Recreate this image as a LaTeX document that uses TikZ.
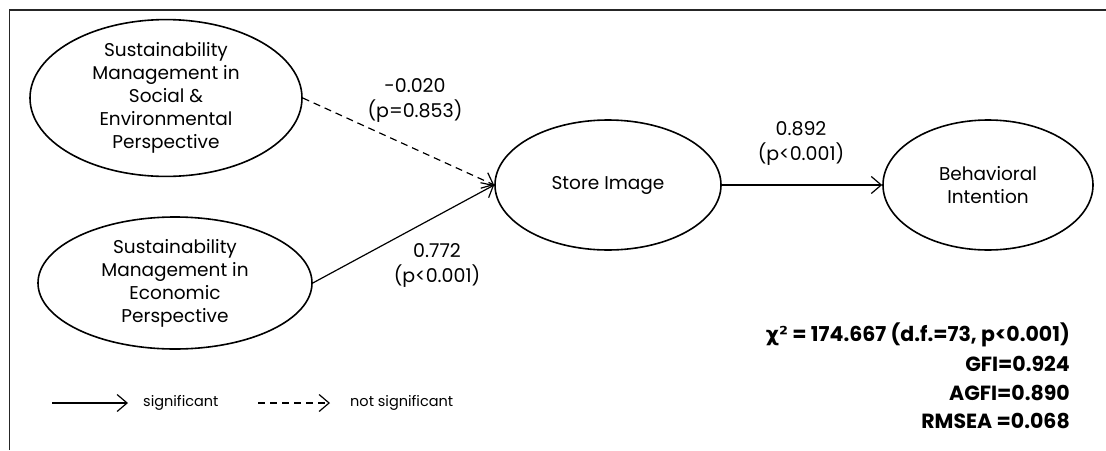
\documentclass[tikz,border=0pt]{standalone}
\usepackage{fontspec}
\setmainfont{Poppins}
\newfontfamily\symfont{DejaVu Sans}
\usetikzlibrary{shapes.geometric,arrows.meta}
\tikzset{
  latent/.style={draw, ellipse, line width=1.6pt, inner sep=0pt, align=center,
    font=\fontsize{18.5}{23}\selectfont},
  sigpath/.style={line width=1.2pt, -{Straight Barb[length=10pt,width=17pt,line width=1.2pt]}},
  nspath/.style={sigpath, dash pattern=on 7pt off 5pt},
  coef/.style={align=center, font=\fontsize{19}{25}\selectfont},
  fitstat/.style={anchor=east, inner sep=0pt, font=\bfseries\fontsize{20.5}{20.5}\selectfont},
  legendtext/.style={anchor=west, inner sep=0pt, font=\fontsize{14.5}{14.5}\selectfont},
  frameline/.style={line width=1.5pt, draw=black!85}
}
\begin{document}
\begin{tikzpicture}[x=1pt, y=-1pt]
\useasboundingbox (0,0) rectangle (1106,450);
% frame
\coordinate (fl) at (9.5,450);
\coordinate (ftl) at (9.5,10);
\coordinate (ftr) at (1106,10);
\draw[frameline] (fl) -- (ftl) -- (ftr);
% latent variables
\node[latent, minimum width=272pt, minimum height=130pt] (soc) at (166,98)
  {Sustainability\\Management in\\Social \&\\Environmental\\Perspective};
\node[latent, minimum width=274pt, minimum height=132pt] (eco) at (175,283)
  {Sustainability\\Management in\\Economic\\Perspective};
\node[latent, minimum width=226pt, minimum height=130pt] (si) at (608,185)
  {Store Image};
\node[latent, minimum width=210pt, minimum height=130pt] (bi) at (988,185)
  {Behavioral\\Intention};
% paths
\draw[nspath] (soc.east) -- (si.west);
\draw[sigpath] (eco.east) -- (si.west);
\draw[sigpath] (si.east) -- (bi.west);
% coefficients
\node[coef] (c1) at (415,100) {-0.020\\(p=0.853)};
\node[coef] (c2) at (437,265) {0.772\\(p<0.001)};
\node[coef] (c3) at (801,143) {0.892\\(p<0.001)};
% fit statistics
\node[fitstat] (f1) at (1070,335) {{\symfont\bfseries χ²} = 174.667 (d.f.=73, p<0.001)};
\node[fitstat] (f2) at (1070,364) {GFI=0.924};
\node[fitstat] (f3) at (1070,393) {AGFI=0.890};
\node[fitstat] (f4) at (1070,421) {RMSEA =0.068};
% legend
\coordinate (l1s) at (52,403);
\coordinate (l1e) at (128,403);
\coordinate (l2s) at (258,403);
\coordinate (l2e) at (330,403);
\draw[sigpath] (l1s) -- (l1e);
\draw[nspath] (l2s) -- (l2e);
\node[legendtext] (lt1) at (143,403) {significant};
\node[legendtext] (lt2) at (350,403) {not significant};
\end{tikzpicture}
\end{document}
